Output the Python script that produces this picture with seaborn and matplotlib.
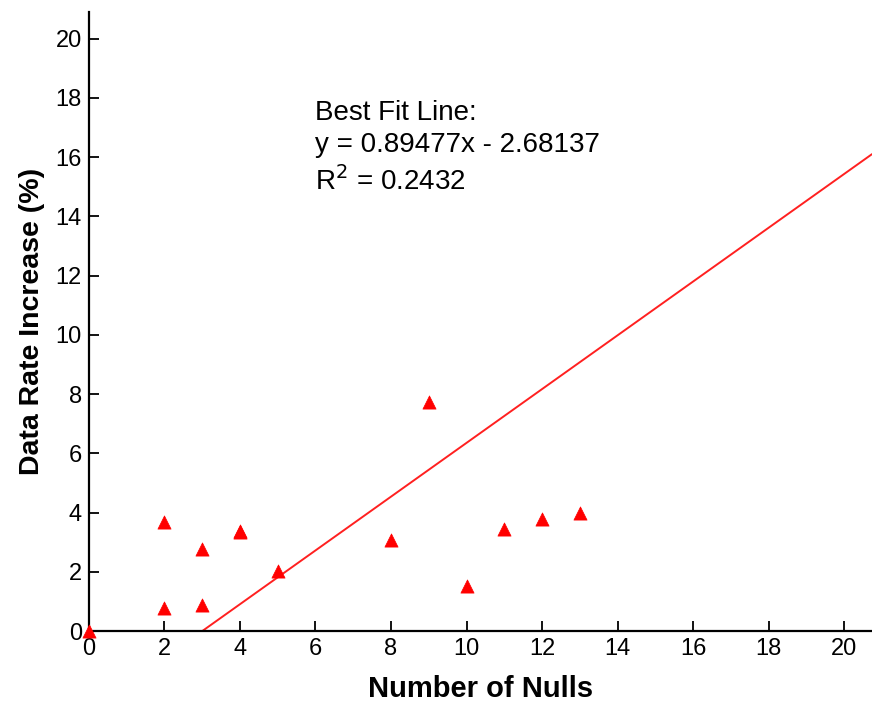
import matplotlib
matplotlib.use("Agg")
import matplotlib.pyplot as plt
import seaborn as sns
import pandas as pd

nulls = [0, 2, 2, 3, 3, 4, 4, 5, 8, 9, 10, 11, 12, 13]
rate = [0.0, 3.68, 0.78, 2.77, 0.88, 3.38, 3.33, 2.03, 3.08, 7.75, 1.52, 3.43, 3.8, 4.0]
fit_x = [3.0, 20.74]
fit_y = [0.0, 16.1]
ticks = [0, 2, 4, 6, 8, 10, 12, 14, 16, 18, 20]

sns.set_theme(style="white")
plt.rcParams['font.family'] = ['Liberation Sans', 'DejaVu Sans']
plt.rcParams['text.color'] = 'black'
plt.rcParams['axes.labelcolor'] = 'black'
plt.rcParams['xtick.color'] = 'black'
plt.rcParams['ytick.color'] = 'black'

fig = plt.figure(figsize=(8.72, 7.02), dpi=100)
ax = fig.add_axes([0.102, 0.101, 0.898, 0.882])

df = pd.DataFrame({"x": nulls, "y": rate})
sns.scatterplot(data=df, x="x", y="y", marker="^", s=90, color="#ff0000",
                edgecolor="#ff0000", linewidth=0.5, ax=ax, zorder=3, clip_on=False)
sns.lineplot(x=fit_x, y=fit_y, color="#ff2020", linewidth=1.4, ax=ax)

ax.set_xlim(0, 20.74)
ax.set_ylim(0, 20.9)
ax.set_xticks(ticks)
ax.set_yticks(ticks)
ax.set_xticklabels([str(t) for t in ticks], fontsize=17)
ax.set_yticklabels([str(t) for t in ticks], fontsize=17)
ax.tick_params(bottom=True, left=True, direction="in", length=7, width=1.3,
               color="black", labelcolor="black", pad=5)
for s in ["top", "right"]:
    ax.spines[s].set_visible(False)
for s in ["left", "bottom"]:
    ax.spines[s].set_color("black")
    ax.spines[s].set_linewidth(1.6)

ax.set_xlabel("Number of Nulls", fontsize=21, fontweight="bold", labelpad=11, color="black")
ax.set_ylabel("Data Rate Increase (%)", fontsize=20.5, fontweight="bold", labelpad=8, color="black")

ax.text(5.98, 17.5, "Best Fit Line:", fontsize=20, va="center", ha="left", color="black")
ax.text(5.98, 16.4, "y = 0.89477x - 2.68137", fontsize=20, va="center", ha="left", color="black")
ax.text(5.98, 15.2, "R$^2$ = 0.2432", fontsize=20, va="center", ha="left", color="black")

fig.savefig("out.png", dpi=100)
